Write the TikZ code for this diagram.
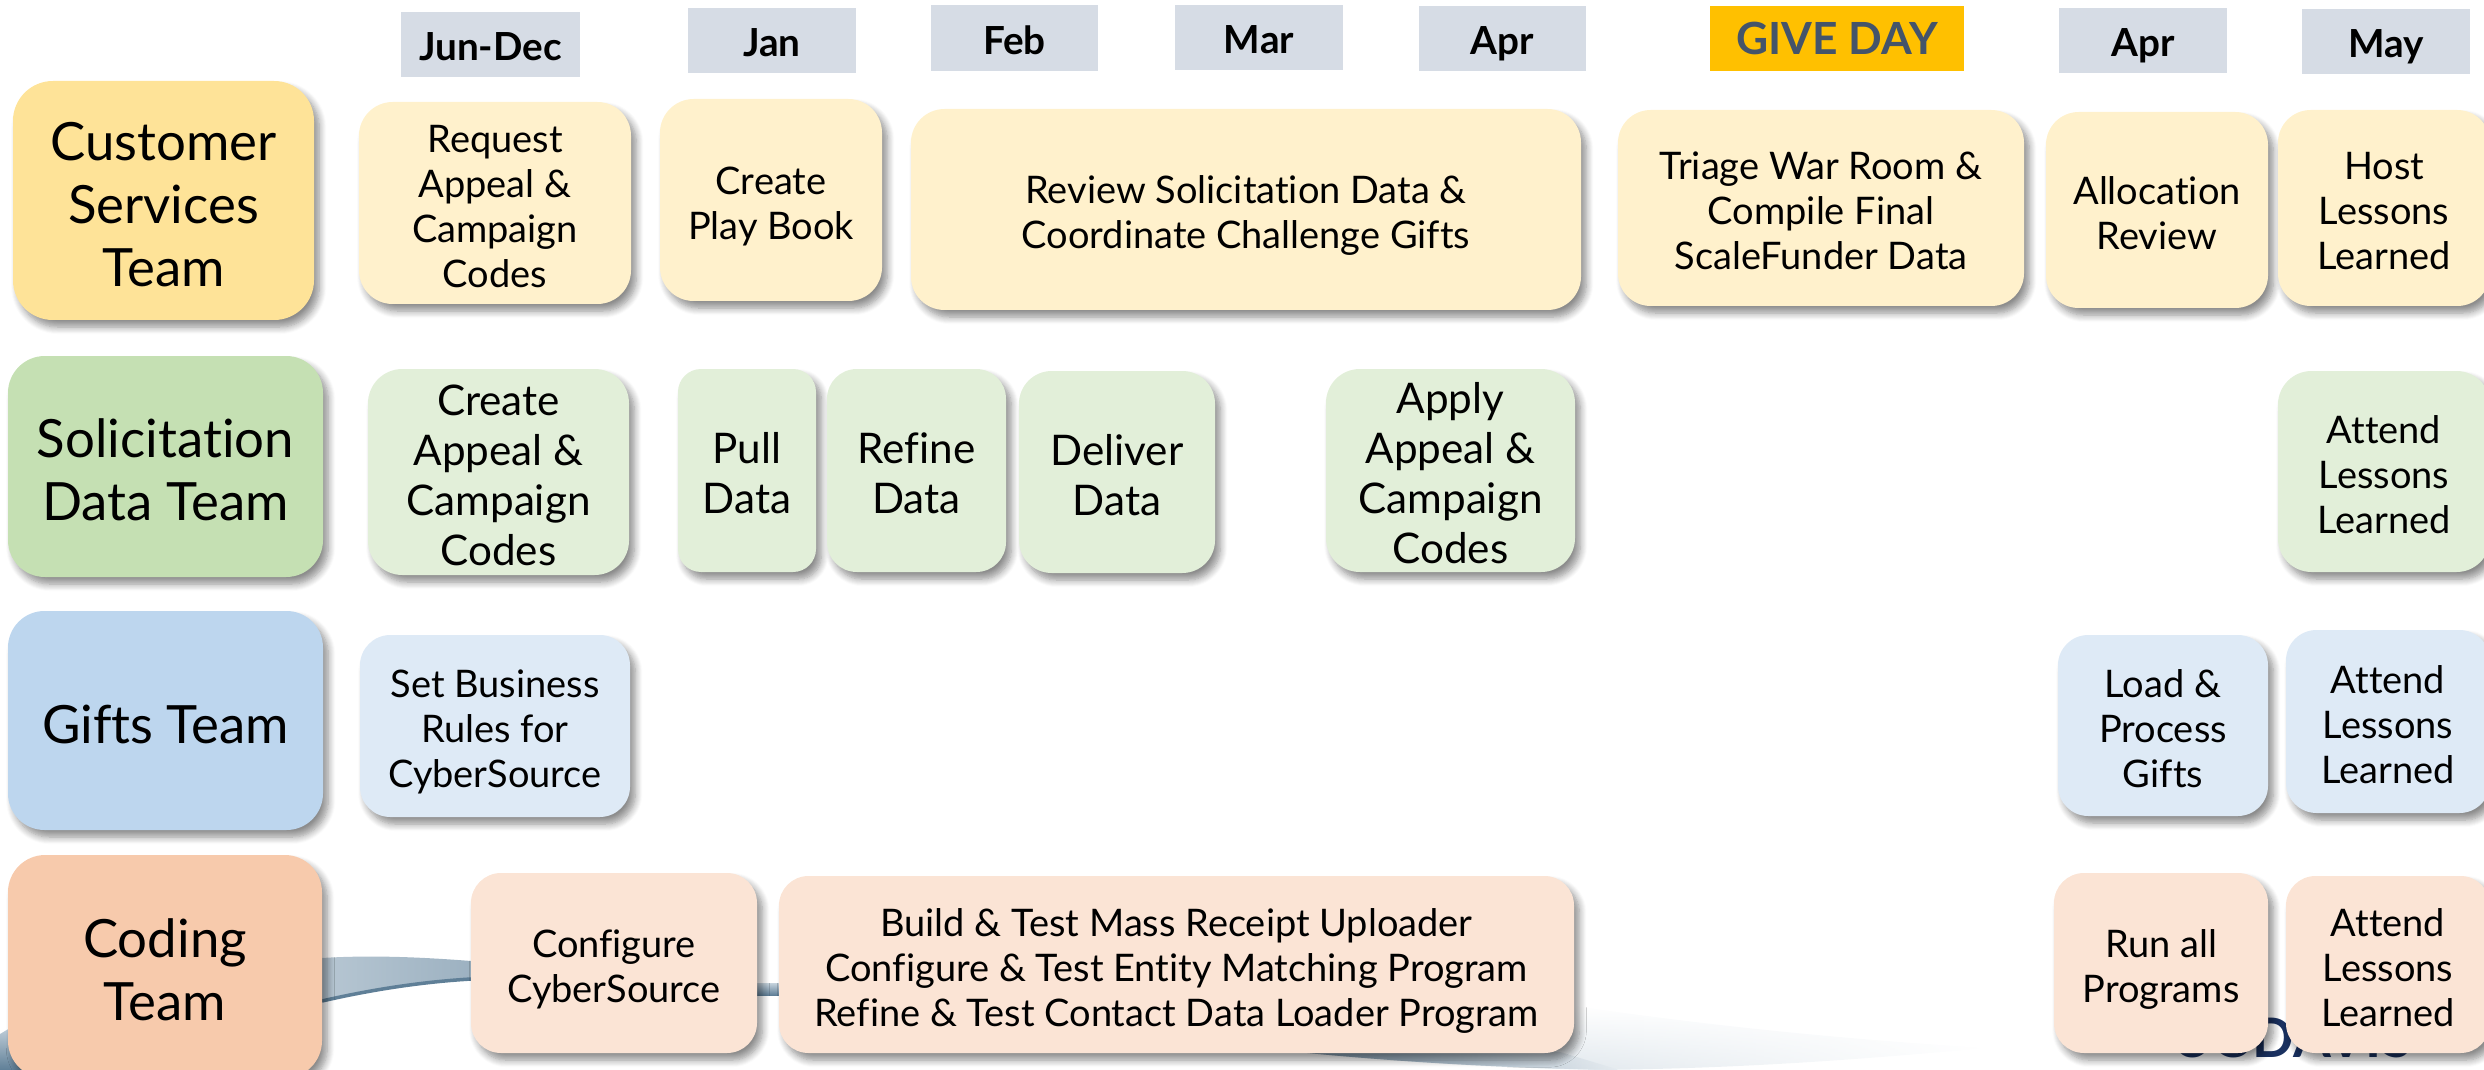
\documentclass[tikz,border=0pt]{standalone}
\usepackage{fontspec}
\setmainfont{Lato}[Ligatures=NoCommon]
\usetikzlibrary{shadows.blur,fadings}
\definecolor{csteam}{HTML}{FEE398}
\definecolor{cslight}{HTML}{FFF1CC}
\definecolor{sdteam}{HTML}{C5E0B3}
\definecolor{sdlight}{HTML}{E2EFD9}
\definecolor{gtteam}{HTML}{BDD6EE}
\definecolor{gtlight}{HTML}{DEEAF6}
\definecolor{coteam}{HTML}{F7CAAC}
\definecolor{colight}{HTML}{FBE4D5}
\definecolor{monthfill}{HTML}{D6DCE5}
\definecolor{givefill}{HTML}{FFC000}
\definecolor{giveink}{HTML}{44546A}
\definecolor{ucnavy}{HTML}{1A3160}
\definecolor{swoosh}{HTML}{5F7F97}
\definecolor{swooshpale}{HTML}{C6D3DD}
\newcommand{\topgap}{\rule{0pt}{0.87em}}
\tikzset{
  size/.style 2 args={minimum width=#1*0.01cm,minimum height=#2*0.01cm},
  month/.style 2 args={size={#1}{#2},inner sep=0pt,text height=9.2pt,text depth=0pt,
    font=\fontsize{11}{13}\selectfont\bfseries},
  card/.style n args={3}{size={#1}{#2},inner sep=0pt,align=center,fill=#3,text depth=0pt,
    rounded corners={min(#1,#2)/6*0.01cm},
    blur shadow={shadow xshift=1.5pt,shadow yshift=-2pt,shadow blur radius=2pt,shadow opacity=45,shadow blur steps=8}},
  team/.style={font=\fontsize{15}{17.9}\selectfont},
  small/.style={font=\fontsize{10.8}{12.8}\selectfont},
  large/.style={font=\fontsize{12}{14.2}\selectfont}
}
\begin{document}
\begin{tikzpicture}[x=0.01cm,y=-0.01cm]
  \useasboundingbox (0,0) rectangle (2484,1070);
  % backdrop
  \shade[left color=swooshpale!85!swoosh,right color=swooshpale!60!swoosh] (322,958) .. controls (370,955) and (420,957) .. (471,961)
    -- (471,980) .. controls (420,982) and (370,990) .. (322,1002) -- cycle;
  \draw[swoosh,line width=1pt] (322,1001) .. controls (370,990) and (420,982) .. (471,979);
  \shade[top color=swooshpale,bottom color=swoosh] (757,983) rectangle (779,995);
  \shade[top color=swooshpale,bottom color=swoosh] (0,1034) -- (15,1025) -- (70,1070) -- (0,1070) -- cycle;
  \shade[top color=white,bottom color=swooshpale!85!white,path fading=east] (1297,1005) -- (1570,1005) .. controls (1700,1025) and (1850,1040) .. (1990,1048)
    .. controls (1850,1060) and (1750,1068) .. (1600,1070) .. controls (1500,1068) and (1400,1062) .. (1297,1052) -- cycle;
  \fill[swoosh!80!white,path fading=east] (1297,1052) .. controls (1400,1062) and (1500,1068) .. (1620,1070) -- (1560,1052) -- cycle;
  \draw (2292,1057) node[anchor=base,text=ucnavy,inner sep=0pt,font=\fontsize{15.5}{15}\selectfont\bfseries] (logo){UC\hspace{-0.17em} DAVIS};
  % month heads
  \draw
    (490.5,44.5) node[month={179}{65},fill=monthfill] (jundec){Jun-Dec}
    (772,40.5) node[month={168}{65},fill=monthfill] (jan){Jan}
    (1014.5,38) node[month={167}{66},fill=monthfill] (feb){Feb}
    (1259,37.5) node[month={168}{65},fill=monthfill] (mar){Mar}
    (1502.5,38.5) node[month={167}{65},fill=monthfill] (aprA){Apr}
    (1837,38.5) node[month={254}{65},fill=givefill,text=giveink,font=\fontsize{12.6}{14}\selectfont\bfseries] (give){GIVE DAY}
    (2143,40.5) node[month={168}{65},fill=monthfill] (aprB){Apr}
    (2386,41.5) node[month={168}{65},fill=monthfill] (may){May};
  % team column
  \draw
    (163.5,200.5) node[card={301}{239}{csteam},team] (cs){\topgap Customer\\Services\\Team}
    (165.5,466.5) node[card={315}{221}{sdteam},team] (sd){\topgap Solicitation\\Data Team}
    (165.5,720.5) node[card={315}{219}{gtteam},team] (gt){\topgap Gifts Team}
    (165,966.5) node[card={314}{223}{coteam},team] (co){\topgap Coding\\Team};
  % customer services row
  \draw
    (495,203) node[card={272}{202}{cslight},small] (request){\topgap Request\\Appeal \&\\Campaign\\Codes}
    (771,200) node[card={222}{202}{cslight},small] (playbook){\topgap Create\\Play Book}
    (1246,209.5) node[card={670}{201}{cslight},small] (review){\topgap Review Solicitation Data \&\\Coordinate Challenge Gifts}
    (1821,208) node[card={406}{196}{cslight},small] (triage){\topgap Triage War Room \&\\Compile Final\\ScaleFunder Data}
    (2157,210) node[card={222}{196}{cslight},small] (alloc){\topgap Allocation\\Review}
    (2384,208) node[card={212}{196}{cslight},small] (host){\topgap Host\\Lessons\\Learned};
  % solicitation data row
  \draw
    (498.5,472) node[card={261}{206}{sdlight},large] (createcodes){\topgap Create\\Appeal \&\\Campaign\\Codes}
    (747,470.5) node[card={138}{203}{sdlight},large] (pull){\topgap Pull\\Data}
    (916.5,470.5) node[card={179}{203}{sdlight},large] (refine){\topgap Refine\\Data}
    (1117,472) node[card={196}{202}{sdlight},large] (deliver){\topgap Deliver\\Data}
    (1450.5,470.5) node[card={249}{203}{sdlight},large] (apply){\topgap Apply\\Appeal \&\\Campaign\\Codes}
    (2384,471.5) node[card={212}{201}{sdlight},small] (attendsd){\topgap Attend\\Lessons\\Learned};
  % gifts row
  \draw
    (495,726) node[card={270}{182}{gtlight},small] (rules){\topgap Set Business\\Rules for\\CyberSource}
    (2163,725.5) node[card={210}{181}{gtlight},small] (load){\topgap Load \&\\Process\\Gifts}
    (2388,721.5) node[card={204}{183}{gtlight},small] (attendgt){\topgap Attend\\Lessons\\Learned};
  % coding row
  \draw
    (614,963) node[card={286}{180}{colight},small] (config){\topgap Configure\\CyberSource}
    (1176.5,964.5) node[card={795}{177}{colight},small] (build){\topgap Build \& Test Mass Receipt Uploader\\Configure \& Test Entity Matching Program\\Refine \& Test Contact Data Loader Program}
    (2161,963) node[card={214}{180}{colight},small] (runall){\topgap Run all\\Programs}
    (2388,964.5) node[card={204}{177}{colight},small] (attendco){\topgap Attend\\Lessons\\Learned};
\end{tikzpicture}
\end{document}
